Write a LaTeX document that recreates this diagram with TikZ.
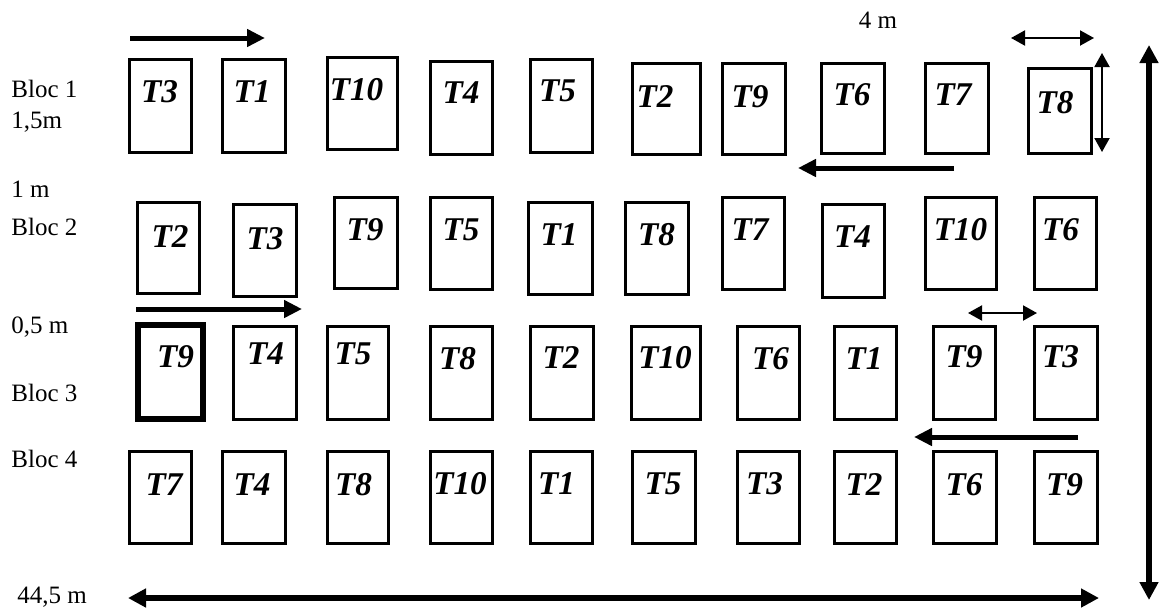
\documentclass[tikz,border=0pt]{standalone}
\usepackage{fontspec}
\setmainfont{Liberation Serif}
\usetikzlibrary{arrows.meta}
\definecolor{InkCol}{RGB}{0,0,0}
\tikzset{
  plbox/.style={line width=1.5pt, draw=InkCol},
  plflow/.style={-{Triangle[length=9pt,width=8.5pt]}, line width=2.5pt, draw=InkCol},
  pltotal/.style={{Triangle[length=9pt,width=9pt]}-{Triangle[length=9pt,width=9pt]}, line width=2.8pt, draw=InkCol},
  pldim/.style={{Triangle[length=7pt,width=7.5pt]}-{Triangle[length=7pt,width=7.5pt]}, line width=1pt, draw=InkCol},
  pltrt/.style={font=\fontsize{16.6}{17}\selectfont\bfseries\itshape, inner sep=0pt, anchor=north},
  pltxt/.style={font=\fontsize{12.5}{13}\selectfont, inner sep=0pt, anchor=base west}
}

\begin{document}
\begin{tikzpicture}[x=0.5pt,y=-0.5pt]
  \useasboundingbox (0,0) rectangle (1166,611);
  % bloc 1
  \foreach \xa/\ya/\xb/\yb/\t/\lx/\ly [count=\i] in {129/59/191/152/3/159.5/80, 222/59/285/152/1/252/80,
      327/57/397/149/10/356.5/78, 430/61/492/154/4/461/81, 530/59/592/152/5/557.5/79, 632/63/700/154/2/655/85,
      722/63/785/154/9/750/85, 821/63/884/153/6/852/83, 925/63/988/153/7/953/83, 1028/68/1091/153/8/1055/91}
    {\draw[plbox] (\xa,\ya) rectangle (\xb,\yb);
     \node[pltrt] (ba\i) at (\lx,\ly) {T\t};}
  % bloc 2
  \foreach \xa/\ya/\xb/\yb/\t/\lx/\ly [count=\i] in {137/202/199/293/2/170/225, 233/204/296/296/3/265/227,
      334/197/397/288/9/365/218, 430/197/492/289/5/461/218, 528/202/592/294/1/559/223, 625/202/688/294/8/656.5/223,
      722/197/784/289/7/750/218, 822/204/884/297/4/852.5/225, 925/197/996/289/10/960.5/218, 1034/197/1096/289/6/1060.5/218}
    {\draw[plbox] (\xa,\ya) rectangle (\xb,\yb);
     \node[pltrt] (bb\i) at (\lx,\ly) {T\t};}
  % bloc 3 (premiere parcelle en trait gras)
  \foreach \xa/\ya/\xb/\yb/\t/\lx/\ly/\w [count=\i] in {138/325/203/419/9/175.5/345/2.6, 233/326/296/419/4/265.5/342/1.5,
      327/326/388/419/5/353/342/1.5, 430/326/492/419/8/457.5/347/1.5, 530/326/593/419/2/561/346/1.5,
      631/326/700/419/10/665/346/1.5, 737/326/799/419/6/770.5/347/1.5, 834/326/896/419/1/864/347/1.5,
      933/326/995/419/9/964/345/1.5, 1034/326/1097/419/3/1060.5/345/1.5}
    {\draw[plbox, line width=\w pt] (\xa,\ya) rectangle (\xb,\yb);
     \node[pltrt] (bc\i) at (\lx,\ly) {T\t};}
  % bloc 4
  \foreach \xa/\ya/\xb/\yb/\t/\lx/\ly [count=\i] in {129/451/191/543/7/164/473, 222/451/285/543/4/252/473,
      327/451/388/543/8/353.5/473, 430/451/492/543/10/460/472, 530/451/592/543/1/556.5/472, 632/451/695/543/5/663/472,
      737/451/799/543/3/764.5/472, 834/451/896/543/2/864/473, 933/451/996/543/6/964/473, 1034/451/1097/543/9/1064.5/473}
    {\draw[plbox] (\xa,\ya) rectangle (\xb,\yb);
     \node[pltrt] (bd\i) at (\lx,\ly) {T\t};}

  % textes a gauche
  \node[pltxt] (bloc1) at (11,97) {Bloc 1};
  \node[pltxt] (haut) at (11,128) {1,5m};
  \node[pltxt] (allee1) at (11,197) {1 m};
  \node[pltxt] (bloc2) at (11,235) {Bloc 2};
  \node[pltxt] (allee2) at (11,333) {0,5 m};
  \node[pltxt] (bloc3) at (11,401) {Bloc 3};
  \node[pltxt] (bloc4) at (11,467) {Bloc 4};
  \node[pltxt] (long) at (17,603) {44,5 m};
  \node[pltxt, anchor=base] (larg) at (878,28) {4 m};

  % sens de passage
  \coordinate (fa1) at (130,38);  \coordinate (fa2) at (265,38);
  \coordinate (fb1) at (954,168); \coordinate (fb2) at (798,168);
  \coordinate (fc1) at (136,309); \coordinate (fc2) at (302,309);
  \coordinate (fd1) at (1078,437); \coordinate (fd2) at (914,437);
  \draw[plflow] (fa1) -- (fa2);
  \draw[plflow] (fb1) -- (fb2);
  \draw[plflow] (fc1) -- (fc2);
  \draw[plflow] (fd1) -- (fd2);

  % cotes
  \coordinate (tl) at (128,598); \coordinate (tr) at (1099,598);
  \coordinate (vt) at (1149,45); \coordinate (vb) at (1149,600);
  \draw[pltotal] (tl) -- (tr);
  \draw[pltotal] (vt) -- (vb);
  \coordinate (da1) at (1011,38); \coordinate (da2) at (1094,38);
  \coordinate (db1) at (1102,53); \coordinate (db2) at (1102,152);
  \coordinate (dc1) at (968,313); \coordinate (dc2) at (1037,313);
  \draw[pldim] (da1) -- (da2);
  \draw[pldim] (db1) -- (db2);
  \draw[pldim] (dc1) -- (dc2);
\end{tikzpicture}
\end{document}
